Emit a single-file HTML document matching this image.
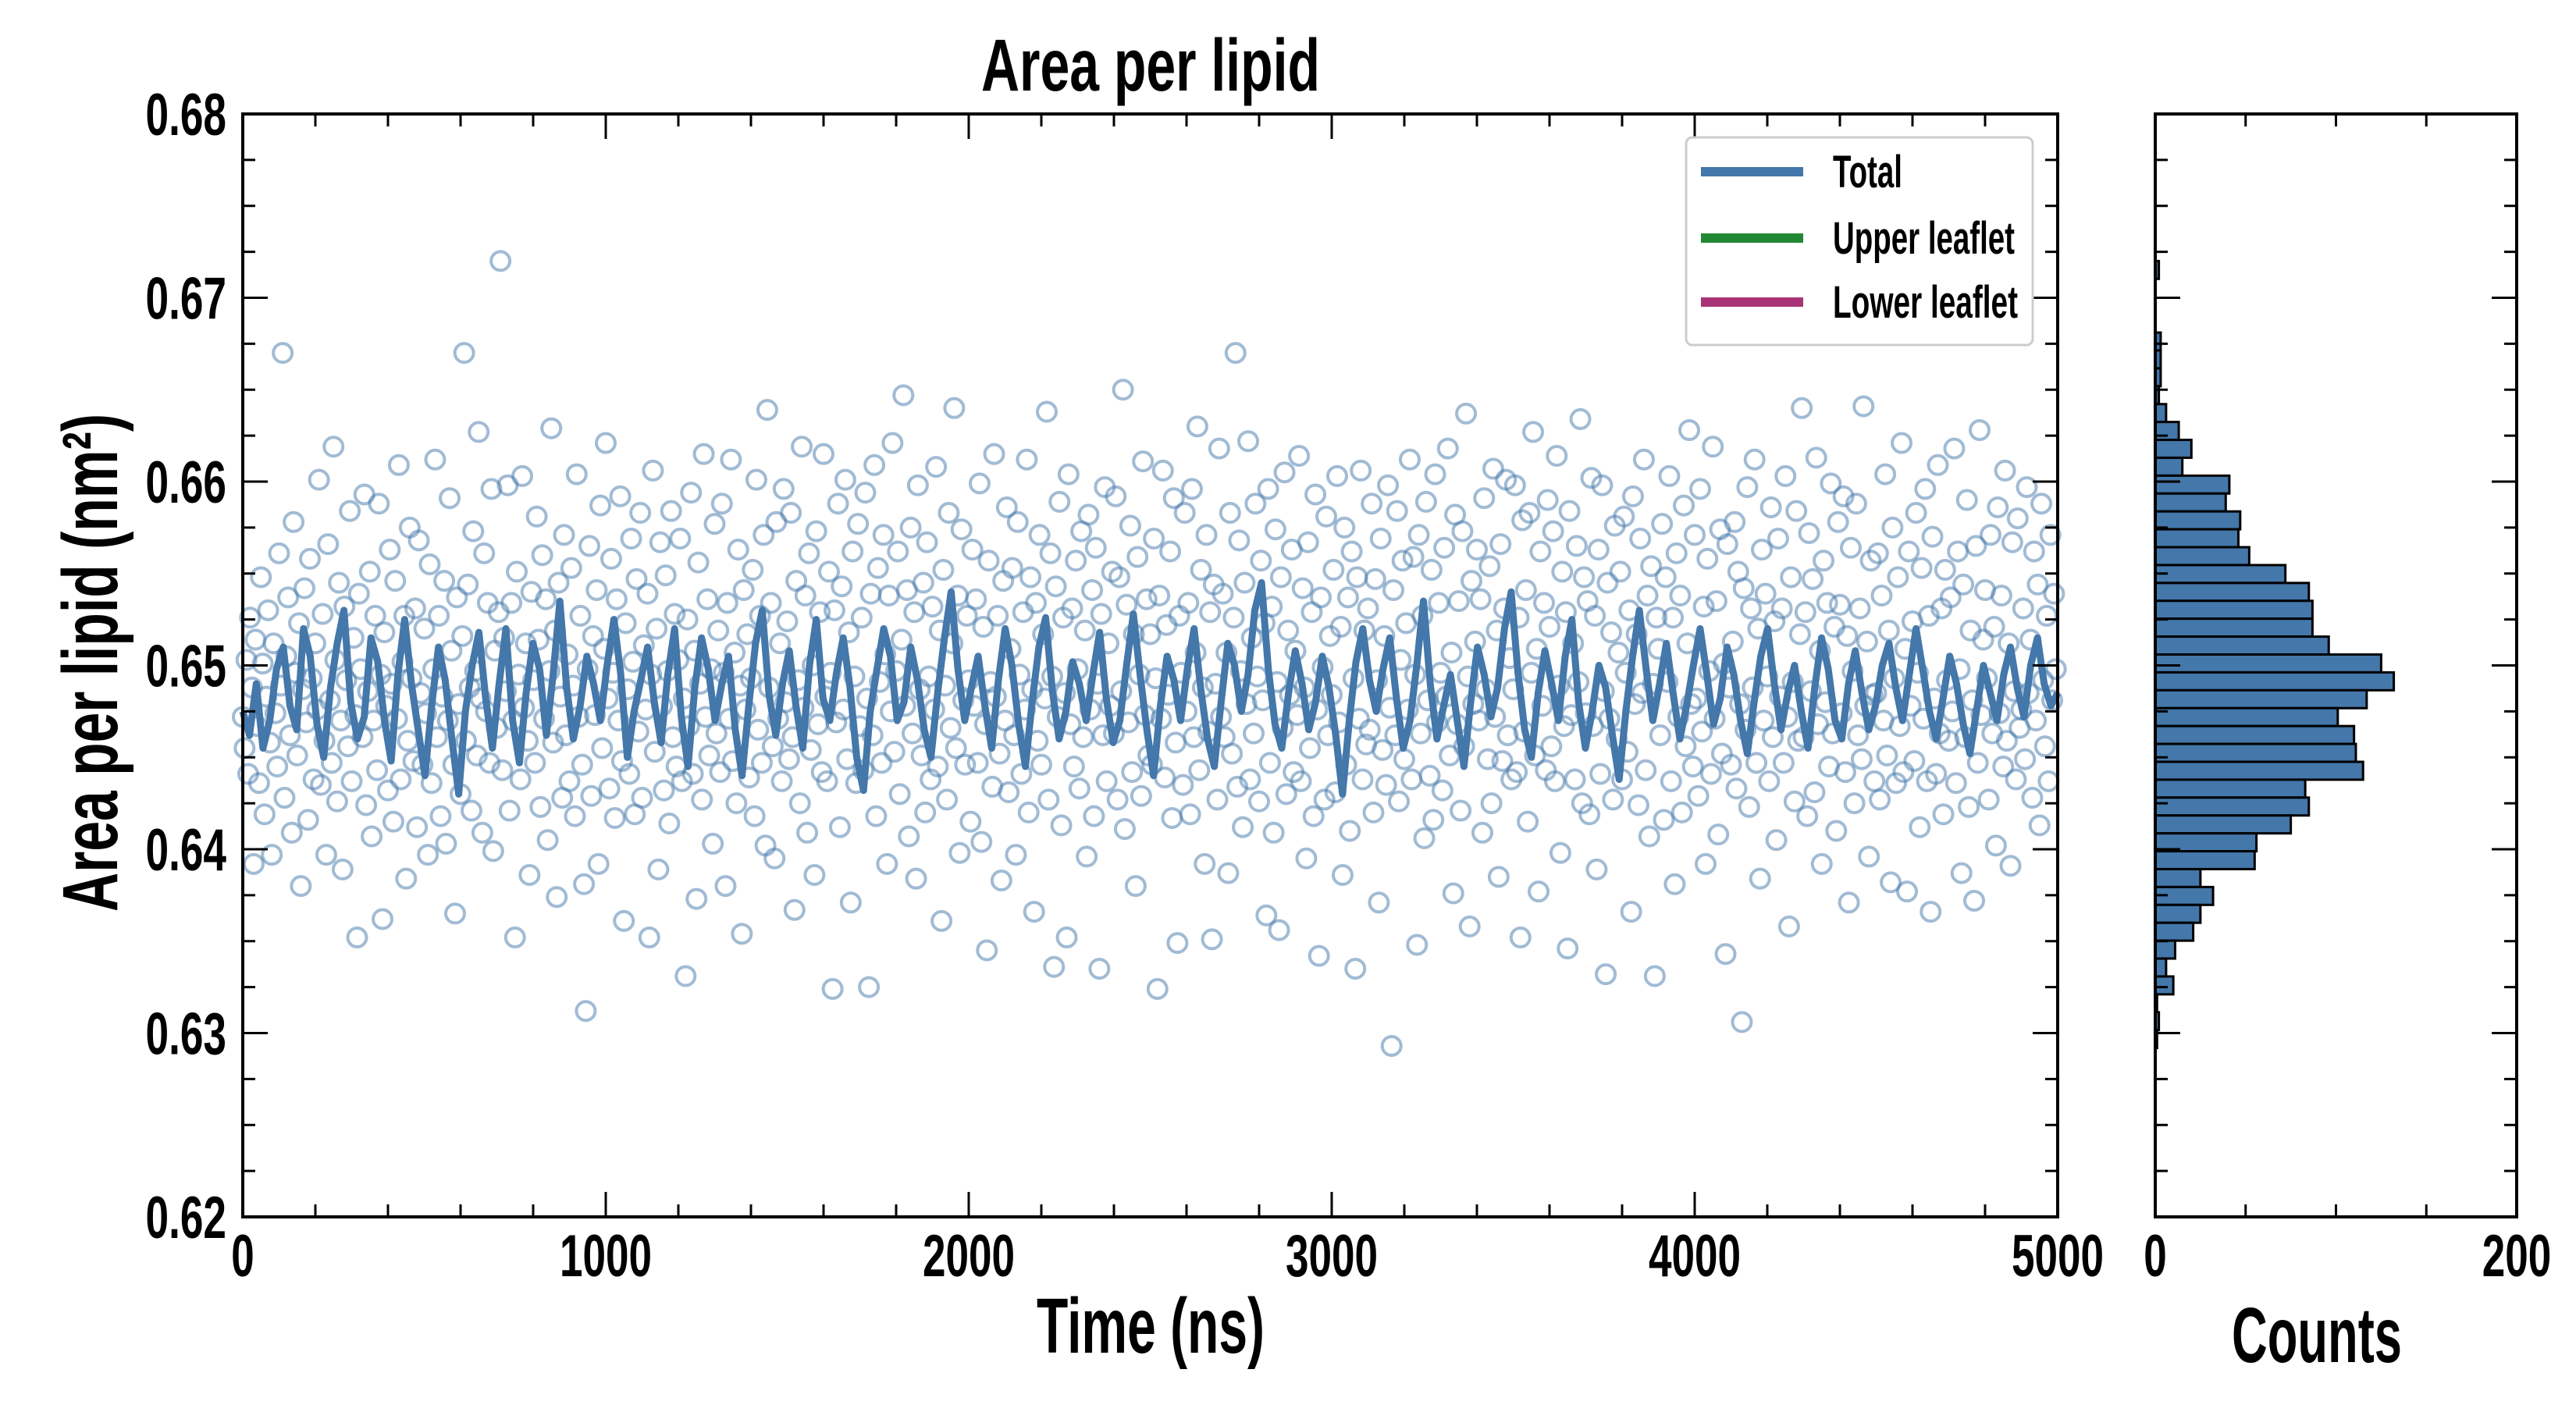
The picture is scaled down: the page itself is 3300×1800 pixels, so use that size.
<!DOCTYPE html>
<html><head><meta charset="utf-8"><style>
html,body{margin:0;padding:0;background:#fff;}
svg{display:block;}
text{font-family:"Liberation Sans Narrow","Liberation Sans",sans-serif;font-weight:bold;fill:#000;}
</style></head><body>
<svg id="chart" width="3300" height="1800" viewBox="0 0 3300 1800" xmlns="http://www.w3.org/2000/svg">
<rect x="0" y="0" width="3300" height="1800" fill="#fff"/>
<g id="scatter"></g>
<g id="line"></g>
<g id="hist"></g>
<g id="axes"></g>
<text x="1474" y="116" font-size="95" text-anchor="middle" textLength="434" lengthAdjust="spacingAndGlyphs">Area per lipid</text>
<text x="1474" y="1733" font-size="100" text-anchor="middle" textLength="292" lengthAdjust="spacingAndGlyphs">Time (ns)</text>
<text x="2968" y="1745" font-size="100" text-anchor="middle" textLength="218" lengthAdjust="spacingAndGlyphs">Counts</text>
<text transform="translate(150,849) rotate(-90)" x="0" y="0" font-size="100" text-anchor="middle" textLength="638" lengthAdjust="spacingAndGlyphs">Area per lipid (nm²)</text>
<g>
<rect x="2160" y="176" width="444" height="266" rx="8" fill="#fff" fill-opacity="0.85" stroke="#ccc" stroke-width="3"/>
<line x1="2179" y1="220" x2="2310" y2="220" stroke="#4477aa" stroke-width="12"/>
<text x="2348" y="240" font-size="58" textLength="89" lengthAdjust="spacingAndGlyphs">Total</text>
<line x1="2179" y1="305" x2="2310" y2="305" stroke="#228833" stroke-width="12"/>
<text x="2348" y="325" font-size="58" textLength="233" lengthAdjust="spacingAndGlyphs">Upper leaflet</text>
<line x1="2179" y1="387" x2="2310" y2="387" stroke="#aa3377" stroke-width="12"/>
<text x="2348" y="407" font-size="58" textLength="237" lengthAdjust="spacingAndGlyphs">Lower leaflet</text>
</g>
</svg>
<script>
// scatter values: 0.6 + v/10000, one every scatterStep ns
const scatterStep = 5;
const scatterVals = [
472,455,503,441,526,488,392,514,467,436,548,501,419,483,530,458,397,512,474,445,
561,489,670,428,505,537,462,409,578,496,451,523,380,487,542,469,416,558,493,438,
512,476,601,435,528,459,397,566,481,447,619,503,426,545,470,389,532,492,456,584,
437,515,473,352,539,498,461,593,424,486,551,407,470,527,443,588,495,362,518,478,
432,563,490,415,546,471,609,438,502,527,384,459,575,493,448,531,412,568,485,446,
520,474,397,555,436,498,612,461,527,418,483,546,403,470,591,508,446,365,537,479,
430,516,670,459,544,488,421,573,497,451,627,482,409,561,475,534,447,596,399,508,
466,529,720,443,515,486,598,421,534,470,352,551,495,438,603,477,512,459,386,540,
492,447,581,514,423,560,471,536,405,497,629,458,519,374,545,483,428,571,462,506,
437,553,489,418,604,472,527,446,381,312,498,565,429,516,473,541,392,587,455,509,
621,482,433,558,496,417,536,470,592,448,361,523,487,441,569,502,419,547,464,583,
428,511,476,539,352,495,606,453,520,389,567,478,432,549,497,414,584,461,528,445,
503,569,437,482,331,525,467,594,441,508,373,556,490,427,615,472,536,451,498,403,
577,463,519,442,588,496,380,534,471,612,448,507,425,563,489,354,541,476,517,439,
493,552,418,601,465,527,447,571,402,639,488,534,456,395,578,471,512,437,596,480,
524,449,583,461,367,546,492,425,619,477,538,409,561,454,500,386,573,468,529,442,
615,483,437,551,496,324,530,469,588,412,543,476,601,449,518,371,562,494,436,577,
467,526,443,594,482,325,539,462,609,418,553,491,447,571,506,392,538,475,621,453,
497,562,430,514,647,478,541,407,575,463,529,384,598,487,451,545,420,567,494,438,
532,476,608,445,519,361,552,489,427,583,466,512,640,455,538,398,574,481,446,527,
492,415,563,478,536,447,599,404,521,468,345,557,491,434,615,483,527,452,383,546,
470,586,431,509,553,462,397,578,495,441,529,476,612,420,548,487,366,534,459,571,
446,517,482,638,427,561,494,336,543,472,589,413,526,485,352,604,468,531,445,557,
498,433,573,461,519,396,582,476,541,418,564,490,335,528,462,597,437,512,478,551,
463,592,427,548,486,650,411,533,469,576,442,517,380,559,495,429,611,473,536,451,
517,446,569,493,324,538,471,606,439,522,484,562,417,591,458,349,527,496,435,583,
475,534,419,596,461,507,630,443,552,488,392,571,464,529,351,544,490,427,618,472,
539,461,507,387,583,452,526,670,434,568,497,412,545,479,622,438,515,463,588,494,
426,557,481,523,364,596,447,532,409,574,491,356,548,466,605,430,519,484,563,442,
508,473,614,437,542,488,395,567,455,529,418,593,476,342,537,499,427,581,462,516,
484,552,431,603,469,521,386,575,446,537,410,562,493,335,548,471,606,438,519,457,
531,465,588,420,547,492,371,569,454,516,435,598,477,293,541,462,584,426,503,557,
449,523,476,612,438,559,495,348,571,463,527,406,589,481,440,552,416,604,469,534,
496,432,564,483,618,451,507,376,582,468,535,421,573,456,637,494,358,546,479,513,
563,470,536,409,591,487,449,554,425,607,472,519,385,566,448,531,601,462,504,438,
487,598,442,526,352,579,464,541,415,583,496,627,451,509,377,562,478,534,443,590,
521,456,573,437,614,489,398,551,467,529,346,584,473,512,438,565,491,634,425,548,
474,535,419,602,467,527,389,563,441,598,486,332,545,471,518,427,576,460,507,551,
438,581,496,453,530,366,592,479,517,424,569,485,612,443,538,407,554,490,331,526,
509,462,577,416,548,491,603,437,526,381,561,472,538,420,587,456,512,628,479,445,
571,482,429,596,464,532,392,558,497,441,619,471,535,408,574,452,501,343,566,488,
446,513,578,433,551,479,306,542,465,597,423,531,488,612,447,520,384,563,470,539,
494,437,586,461,524,405,569,483,531,447,603,472,358,548,491,426,584,459,517,640,
461,529,418,572,486,547,431,613,468,508,392,557,480,534,445,599,463,521,410,578,
533,474,592,442,516,371,564,497,425,588,462,531,449,641,478,513,396,557,484,437,
485,561,427,538,470,604,451,519,382,575,493,436,548,467,621,442,509,377,562,478,
524,448,583,496,412,553,471,596,437,527,366,570,482,441,609,463,531,419,552,492,
459,537,475,618,436,562,498,387,544,461,590,423,519,481,372,565,447,628,473,514,
541,493,427,571,463,521,402,586,474,538,445,606,459,512,391,567,486,438,580,466,
476,531,449,597,485,514,428,562,470,544,413,588,492,456,527,437,571,481,539,498
];
// running average (Total): 0.6 + v/10000, evenly spaced over 0..5000 ns
const lineVals = [
475,462,490,455,470,498,510,478,465,520,505,468,450,488,512,530,480,460,472,515,
502,470,448,495,525,490,465,440,478,510,492,460,430,475,500,518,482,455,490,520,
470,447,485,512,498,462,495,535,488,460,478,505,490,470,500,525,496,450,475,492,
510,480,458,495,520,472,445,488,515,498,470,490,505,465,440,478,512,530,484,462,
490,508,478,455,500,525,482,470,496,515,488,450,432,475,498,520,505,470,480,510,
492,465,450,485,515,540,498,470,488,505,478,455,492,520,500,468,445,480,510,526,
486,460,475,502,490,470,495,518,482,458,470,500,528,495,465,440,478,505,492,470,
498,520,487,460,445,480,512,500,475,495,530,545,498,468,455,485,508,490,465,480,
505,488,462,430,470,502,520,492,475,498,515,482,455,470,500,535,490,460,478,495,
470,445,480,510,495,472,488,520,540,496,465,450,485,508,490,470,505,525,480,455,
475,500,488,462,438,475,505,530,498,470,490,512,485,460,478,500,520,495,468,482,
510,495,470,452,480,505,520,490,465,485,500,475,455,488,515,498,470,460,490,508,
485,465,478,500,512,488,470,495,520,498,475,460,482,505,490,468,452,476,500,485,
470,495,510,488,472,500,515,490,478,485
];
// histogram counts, top bin first
const histTop = 0.672;
const histBinWidth = 0.000973;
const histCounts = [2,0,0,0,3,3,3,2,6,13,20,15,41,39,47,46,52,72,85,87,87,96,125,132,117,101,110,111,115,83,85,75,56,55,25,32,25,21,11,6,10,1,2,1];
const xTicks = [0,1000,2000,3000,4000,5000];
const xTickLabels = ["0","1000","2000","3000","4000","5000"];
const yTicks = [0.62,0.63,0.64,0.65,0.66,0.67,0.68];
const yTickLabels = ["0.62","0.63","0.64","0.65","0.66","0.67","0.68"];
const hTicks = [0,200];
const hTickLabels = ["0","200"];

const NS='http://www.w3.org/2000/svg';
const L=311,R=2636,T=146,B=1559,HL=2761,HR=3224;
const xs=t=>L+t/5000*(R-L);
const ys=v=>T+(0.68-v)/0.06*(B-T);
const hx=c=>HL+c/200*(HR-HL);
function mk(tag,attrs,parent){const e=document.createElementNS(NS,tag);for(const k in attrs)e.setAttribute(k,attrs[k]);parent.appendChild(e);return e;}

const sc=document.getElementById('scatter');
scatterVals.forEach((v,i)=>{
  const c=mk('circle',{cx:xs(i*scatterStep),cy:ys(0.6+v/10000),r:12,fill:'none',stroke:'#4477aa','stroke-opacity':0.5,'stroke-width':4},sc);
  
  
});
const lg=document.getElementById('line');
const lstep=5000/(lineVals.length-1);
const pts=lineVals.map((v,i)=>xs(i*lstep).toFixed(1)+','+ys(0.6+v/10000).toFixed(1)).join(' ');
const pl=mk('polyline',{points:pts,fill:'none',stroke:'#4477aa','stroke-width':9,'stroke-linejoin':'round'},lg);



const hg=document.getElementById('hist');
histCounts.forEach((c,i)=>{
  if(c<=0)return;
  const top=histTop-i*histBinWidth, bot=top-histBinWidth;
  const r=mk('rect',{x:HL,y:ys(top),width:hx(c)-HL,height:ys(bot)-ys(top),fill:'#4477aa',stroke:'#000','stroke-width':3},hg);
  
  
});

const ax=document.getElementById('axes');
function frame(x0,x1,name){const r=mk('rect',{x:x0,y:T,width:x1-x0,height:B-T,fill:'none',stroke:'#000','stroke-width':4},ax);}
frame(L,R,'main-plot-frame');frame(HL,HR,'hist-plot-frame');
function tick(x1,y1,x2,y2){mk('line',{x1,y1,x2,y2,stroke:'#000','stroke-width':3},ax);}
for(let t=0;t<=5000;t+=200){const maj=t%1000===0,len=maj?32:16,x=xs(t);tick(x,B,x,B-len);tick(x,T,x,T+len);}
for(let k=0;k<=24;k++){const v=0.62+k*0.0025,maj=k%4===0,len=maj?32:16,y=ys(v);
  tick(L,y,L+len,y);tick(R,y,R-len,y);tick(HL,y,HL+len,y);tick(HR,y,HR-len,y);}
for(let c=0;c<=200;c+=50){const x=hx(c);tick(x,B,x,B-16);tick(x,T,x,T+16);}
function label(txt,x,y,anchor,name){const t=mk('text',{x,y,'font-size':76,'text-anchor':anchor,textLength:(txt.replace('.','').length*29.5+(txt.includes('.')?15:0)),lengthAdjust:'spacingAndGlyphs'},ax);t.textContent=txt;}
xTicks.forEach((t,i)=>label(xTickLabels[i],xs(t),1635,'middle','x-tick-label'));
yTicks.forEach((v,i)=>label(yTickLabels[i],290,ys(v)+27,'end','y-tick-label'));
hTicks.forEach((c,i)=>label(hTickLabels[i],hx(c),1635,'middle','hist-x-tick-label'));
</script>
</body></html>
